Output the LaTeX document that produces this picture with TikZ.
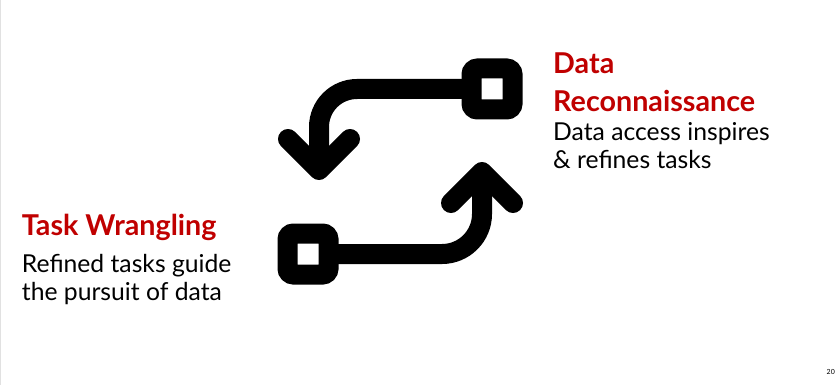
\documentclass[tikz,border=0pt]{standalone}
\usepackage{fontspec}
\setmainfont{Lato}
\usetikzlibrary{calc}
\definecolor{headred}{RGB}{192,0,0}
\definecolor{edgegray}{RGB}{225,225,225}
\tikzset{
  sqbox/.style={draw=black, line width=20pt, rounded corners=6pt,
    minimum size=41pt, inner sep=0pt, fill=white},
  shaft/.style={draw=black, line width=20pt, line cap=butt},
  chevron/.style={draw=black, line width=20pt, line cap=round, line join=round},
  headtext/.style={anchor=base west, inner sep=0pt, text=headred,
    font=\fontsize{28.7}{34}\selectfont\bfseries},
  bodytext/.style={anchor=base west, inner sep=0pt, text=black,
    font=\fontsize{24.7}{28}\selectfont},
}
\begin{document}
\begin{tikzpicture}[x=1pt, y=-1pt]
  \useasboundingbox (0,0) rectangle (837,385);
  \fill[white] (0,0) rectangle (837,385);
  \draw[edgegray, line width=1.2pt] (0.6,0) -- (0.6,385);

  % loop icon: two square end points joined by bent arrows
  \coordinate (downtip) at (319,170);
  \coordinate (uptip) at (482,172);

  \draw[shaft, rounded corners=38pt] (492,89) -| (downtip);
  \draw[chevron] ($(downtip)+(-31,-31)$) -- (downtip) -- ($(downtip)+(31,-31)$);

  \draw[shaft, rounded corners=40pt] (308,254) -| (uptip);
  \draw[chevron] ($(uptip)+(-31,31)$) -- (uptip) -- ($(uptip)+(31,31)$);

  \node[sqbox] (recon) at (492,89) {};
  \node[sqbox] (wrangle) at (308,254) {};

  % labels
  \node[headtext] (rh1) at (553,74) {Data};
  \node[headtext] (rh2) at (553,111.7) {Reconnaissance};
  \node[bodytext] (rb1) at (553,140.7) {Data access inspires};
  \node[bodytext] (rb2) at (553,168.3) {\& refines tasks};

  \node[headtext] (th) at (21.7,235.5) {Task Wrangling};
  \node[bodytext] (tb1) at (21.7,272.7) {Refined tasks guide};
  \node[bodytext] (tb2) at (21.7,300) {the pursuit of data};

  \node[anchor=base east, inner sep=0pt, font=\fontsize{7}{8}\selectfont] (pg) at (835,374) {20};
\end{tikzpicture}
\end{document}
